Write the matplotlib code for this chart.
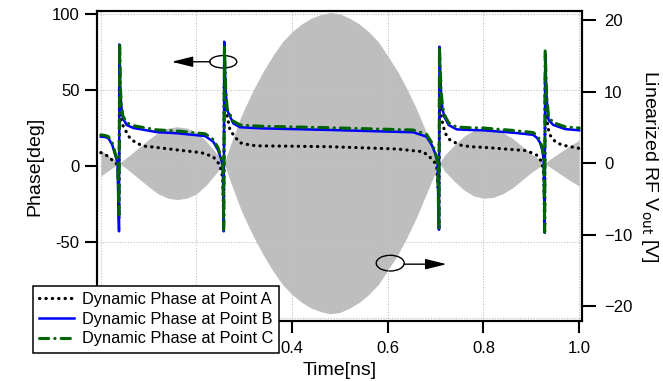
import numpy as np
import matplotlib.pyplot as plt
from matplotlib.patches import Ellipse

plt.rcParams['font.family'] = ['Liberation Sans', 'DejaVu Sans']

# RF envelope (linearized V_out)
t_env = [0.000, 0.020, 0.039, 0.060, 0.080, 0.100, 0.120, 0.140, 0.160, 0.180,
         0.200, 0.220, 0.240, 0.258, 0.270, 0.280, 0.290, 0.300, 0.320, 0.340,
         0.360, 0.380, 0.400, 0.420, 0.440, 0.460, 0.480, 0.500, 0.520, 0.540,
         0.560, 0.580, 0.600, 0.620, 0.640, 0.660, 0.680, 0.700, 0.708, 0.720,
         0.740, 0.760, 0.780, 0.800, 0.820, 0.840, 0.860, 0.880, 0.900, 0.929,
         0.940, 0.960, 0.980, 1.000]
v_env = [1.8, 0.85, 0.0, 1.1, 2.2, 3.3, 4.3, 4.9, 5.1, 4.9,
         4.3, 3.1, 1.5, 0.0, 2.4, 4.2, 6.0, 7.6, 10.4, 12.9,
         15.1, 17.0, 18.4, 19.5, 20.3, 20.8, 21.1, 20.9, 20.3, 19.5,
         18.4, 17.0, 15.0, 12.9, 10.4, 7.6, 4.4, 1.2, 0.0, 1.2,
         2.6, 3.8, 4.6, 4.9, 4.8, 4.3, 3.5, 2.4, 1.3, 0.0,
         0.6, 1.5, 2.4, 3.2]

# Dynamic phase at point A
t_a = [0.000, 0.014, 0.024, 0.032, 0.036, 0.038, 0.039, 0.041, 0.044, 0.051,
       0.061, 0.075, 0.092, 0.103, 0.162, 0.210, 0.235, 0.249, 0.255, 0.257,
       0.258, 0.263, 0.270, 0.280, 0.291, 0.312, 0.326, 0.479, 0.619, 0.674,
       0.695, 0.702, 0.706, 0.707, 0.708, 0.712, 0.720, 0.730, 0.751, 0.772,
       0.800, 0.890, 0.911, 0.922, 0.926, 0.928, 0.929, 0.934, 0.939, 0.950,
       0.964, 1.000]
ph_a = [8.8, 6.6, 3.9, 2.0, -2.0, -35.0, 55.0, 33.5, 28.0, 23.7,
        18.2, 14.9, 13.0, 12.7, 10.5, 8.8, 6.1, 0.7, -8.0, -40.0,
        55.0, 34.6, 23.7, 19.3, 15.3, 13.8, 13.3, 12.7, 11.2, 9.4,
        3.9, 0.0, -20.0, -42.0, 55.0, 31.4, 21.5, 17.1, 13.8, 12.7,
        12.3, 10.1, 7.2, 2.8, -5.0, -40.0, 58.0, 26.0, 20.4, 16.0,
        13.8, 11.6]

# Dynamic phase at point B
t_b = [0.000, 0.010, 0.016, 0.024, 0.030, 0.035, 0.038, 0.039, 0.041, 0.043,
       0.046, 0.054, 0.068, 0.092, 0.117, 0.161, 0.218, 0.235, 0.245, 0.251,
       0.255, 0.257, 0.258, 0.261, 0.264, 0.277, 0.291, 0.333, 0.479, 0.653,
       0.681, 0.692, 0.699, 0.704, 0.707, 0.708, 0.711, 0.714, 0.718, 0.727,
       0.744, 0.772, 0.800, 0.866, 0.904, 0.912, 0.918, 0.923, 0.926, 0.928,
       0.929, 0.932, 0.936, 0.946, 0.971, 1.000]
ph_b = [19.3, 19.0, 18.2, 13.8, 7.2, 2.0, -43.0, 80.0, 48.0, 39.0,
        31.5, 27.0, 25.0, 23.7, 22.3, 21.5, 19.7, 16.0, 10.5, 5.0,
        0.0, -43.0, 81.8, 50.0, 36.8, 28.0, 25.5, 24.8, 23.7, 22.2,
        19.3, 13.8, 8.3, 2.0, -42.0, 78.5, 50.0, 38.0, 32.5, 27.0,
        24.1, 23.7, 23.5, 21.8, 20.5, 18.5, 15.5, 10.5, 4.0, -44.0,
        74.0, 45.0, 30.3, 27.0, 24.3, 23.5]

# Dynamic phase at point C
t_c = [0.000, 0.010, 0.016, 0.024, 0.030, 0.035, 0.038, 0.0395, 0.041, 0.043,
       0.046, 0.054, 0.068, 0.092, 0.117, 0.161, 0.218, 0.235, 0.245, 0.251,
       0.255, 0.257, 0.2585, 0.261, 0.264, 0.277, 0.291, 0.333, 0.479, 0.653,
       0.681, 0.692, 0.699, 0.704, 0.707, 0.708, 0.711, 0.714, 0.718, 0.727,
       0.744, 0.772, 0.800, 0.866, 0.904, 0.912, 0.918, 0.923, 0.926, 0.928,
       0.929, 0.932, 0.936, 0.946, 0.971, 1.000]
ph_c = [20.5, 20.0, 19.3, 15.0, 8.5, 3.0, -32.0, 80.5, 50.0, 40.0,
        33.0, 28.5, 26.5, 25.2, 23.8, 23.0, 21.2, 17.5, 12.0, 6.0,
        1.0, -42.0, 79.0, 52.0, 38.0, 29.5, 27.0, 26.2, 25.2, 23.7,
        20.8, 15.3, 9.5, 3.0, -41.0, 78.5, 52.0, 40.0, 34.0, 28.5,
        25.6, 25.2, 25.0, 23.3, 22.0, 20.0, 17.0, 12.0, 5.0, -43.5,
        76.0, 47.0, 32.5, 28.5, 25.8, 25.0]

# tick values; labels that sit under the legend are left blank
x_ticks = [0.0, 0.2, 0.4, 0.6, 0.8, 1.0]
x_labels = ['', '', '0.4', '0.6', '0.8', '1.0']
y_ticks = [-100, -50, 0, 50, 100]
y_labels = ['', '-50', '0', '50', '100']
v_ticks = [-20, -10, 0, 10, 20]

fig = plt.figure(figsize=(6.63, 3.81), dpi=100)
ax = fig.add_axes([97 / 663, 1 - 321 / 381, 485 / 663, 310 / 381])
ax2 = ax.twinx()

# gray RF signal on the right axis, behind the phase curves
env = np.array(v_env)
ax2.fill_between(t_env, -env, env, color='#bebebe', lw=0)
ax2.set_ylim(-22.1, 21.3)
ax2.set_yticks(v_ticks)
ax2.set_ylabel('Linearized RF V$_{\\mathrm{out}}$ [V]', fontsize=14,
               rotation=270, labelpad=20)

ax.set_zorder(ax2.get_zorder() + 1)
ax.patch.set_visible(False)

la, = ax.plot(t_a, ph_a, color='black', lw=2.3, linestyle=(0, (0.1, 1.9)),
              dash_capstyle='round', label='Dynamic Phase at Point A')
lb, = ax.plot(t_b, ph_b, color='#0000ff', lw=1.8,
              label='Dynamic Phase at Point B')
lc, = ax.plot(t_c, ph_c, color='#006400', lw=2.2,
              linestyle=(0, (3.0, 2.0, 0.1, 2.0)), dash_capstyle='round',
              label='Dynamic Phase at Point C')

ax.set_xlim(-0.008, 1.006)
ax.set_ylim(-102, 102)
ax.set_xticks(x_ticks, x_labels)
ax.set_yticks(y_ticks, y_labels)
ax.set_xlabel('Time[ns]', fontsize=14, labelpad=4)
ax.set_ylabel('Phase[deg]', fontsize=14, labelpad=6)
ax.grid(True, color='#c0c0c0', linestyle=(0, (1, 1.5)), lw=0.8)

for a in (ax, ax2):
    for s in a.spines.values():
        s.set_linewidth(1.5)
ax.tick_params(axis='both', direction='out', length=8.5, width=1.5,
               labelsize=12, pad=4)
ax.tick_params(axis='x', pad=6)
ax2.tick_params(axis='y', direction='out', length=10, width=1.5,
                labelsize=12, pad=6)

# ellipse + arrow markers
ax.add_patch(Ellipse((0.256, 68.6), 0.0565, 8.2, fill=False, lw=1.0,
                     ec='black'))
ax.annotate('', xy=(0.148, 68.6), xytext=(0.2285, 68.6),
            arrowprops=dict(arrowstyle='-|>,head_length=1.3,head_width=0.32',
                            color='black', lw=1.0, shrinkA=0, shrinkB=0))
ax2.add_patch(Ellipse((0.605, -14.0), 0.0585, 2.2, fill=False, lw=1.0,
                      ec='black'))
ax.annotate('', xy=(0.723, -64.6), xytext=(0.634, -64.6),
            arrowprops=dict(arrowstyle='-|>,head_length=1.3,head_width=0.32',
                            color='black', lw=1.0, shrinkA=0, shrinkB=0))

leg = fig.legend(handles=[la, lb, lc], loc='upper left',
                 bbox_to_anchor=(33 / 663, 1 - 286 / 381),
                 bbox_transform=fig.transFigure, borderaxespad=0,
                 fontsize=11.8, fancybox=False, framealpha=1,
                 edgecolor='black', handlelength=2.1, handletextpad=0.5,
                 labelspacing=0.28, borderpad=0.38)
leg.get_frame().set_linewidth(1.1)

fig.savefig('out.png', dpi=100)
